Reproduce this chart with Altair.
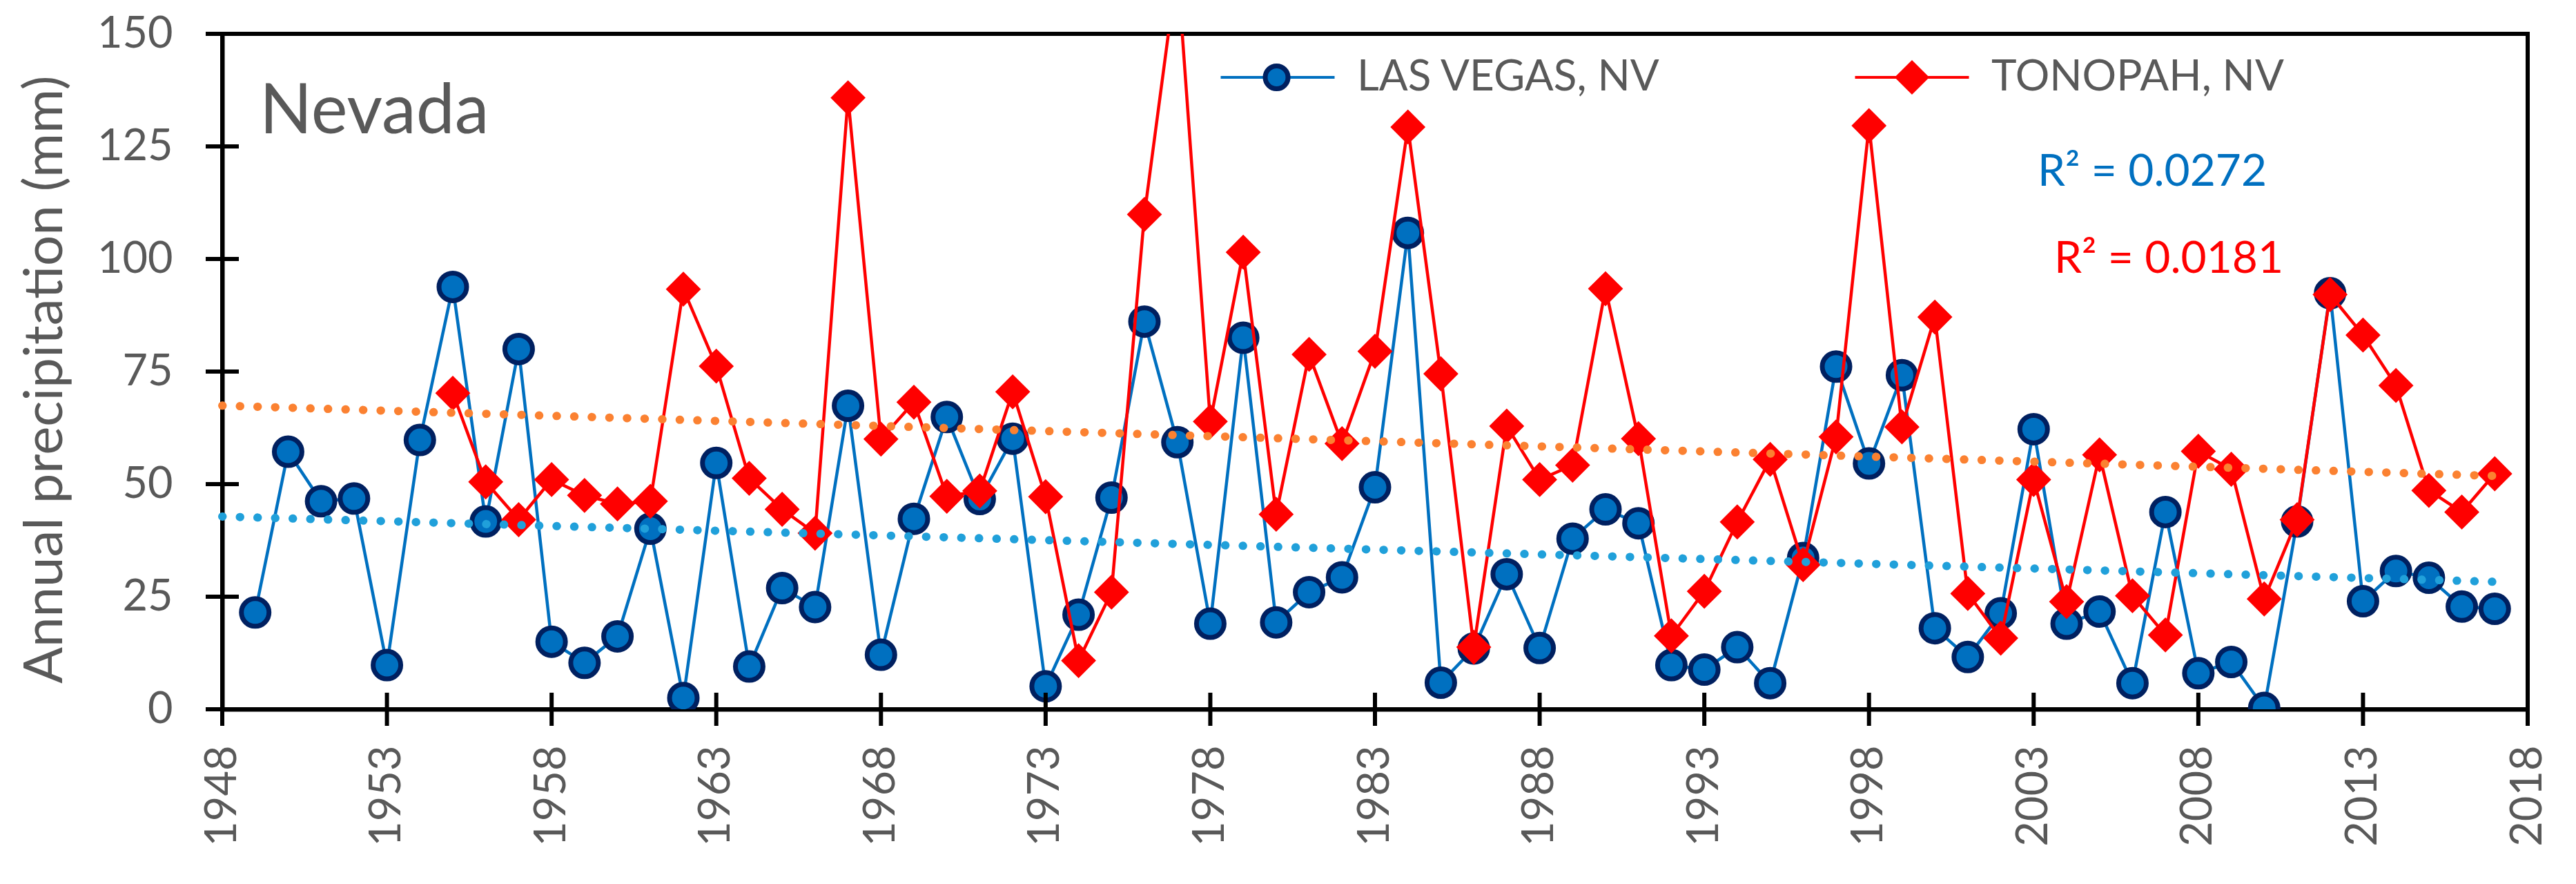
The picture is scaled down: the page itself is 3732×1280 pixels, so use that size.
import altair as alt
import pandas as pd

# ---------------- data ----------------
names = ["LAS VEGAS, NV", "TONOPAH, NV"]

years_lv = list(range(1949, 2018))
precip_lv = [21.5, 57.2, 46.2, 46.8, 9.8, 59.8, 93.8, 41.7, 80.0, 15.0,
             10.3, 16.2, 40.1, 2.5, 54.7, 9.5, 26.9, 22.7, 67.4, 12.1,
             42.3, 64.9, 46.7, 60.1, 5.1, 21.0, 47.0, 86.1, 59.3, 19.0,
             82.5, 19.3, 26.0, 29.3, 49.3, 105.8, 5.9, 13.5, 30.0, 13.6,
             37.9, 44.4, 41.3, 9.8, 8.8, 13.8, 5.8, 33.6, 76.1, 54.6,
             74.2, 18.0, 11.6, 21.3, 62.2, 19.0, 21.7, 5.8, 43.8, 8.0,
             10.5, 0.3, 41.7, 92.4, 24.0, 30.7, 29.2, 22.8, 22.3]

years_ton = list(range(1955, 2018))
precip_ton = [70.2, 50.5, 42.1, 51.0, 47.5, 45.6, 46.2, 93.3, 76.2, 51.3,
              44.4, 39.1, 135.8, 60.0, 68.2, 47.3, 48.5, 70.5, 47.2, 10.8,
              26.0, 109.9, 165.0, 63.9, 101.5, 43.3, 78.8, 59.0, 79.5, 129.3,
              74.5, 13.8, 62.9, 51.0, 54.2, 93.4, 60.1, 16.3, 26.2, 41.6,
              55.5, 32.1, 60.5, 129.6, 62.7, 87.1, 25.7, 15.8, 51.0, 23.9,
              56.5, 25.2, 16.5, 57.3, 53.3, 24.5, 42.1, 92.1, 83.1, 71.9,
              48.6, 43.8, 52.3]

x_ticks = [1948, 1953, 1958, 1963, 1968, 1973, 1978, 1983, 1988, 1993,
           1998, 2003, 2008, 2013, 2018]
y_ticks = [0, 25, 50, 75, 100, 125, 150]
r2_labels = ["R\u00b2 = 0.0272", "R\u00b2 = 0.0181"]
panel_label = "Nevada"
y_title = "Annual precipitation (mm)"

# ---------------- styles ----------------
BLUE = "#0070C0"
NAVY = "#002060"
RED = "#FF0000"
ORANGE_T = "#FB8131"
BLUE_T = "#20A0DA"
GREY = "#595959"
FONT = "Lato"

df_lv = pd.DataFrame({"year": years_lv, "value": precip_lv, "station": names[0]})
df_ton = pd.DataFrame({"year": years_ton, "value": precip_ton, "station": names[1]})
df_all = pd.concat([df_lv, df_ton], ignore_index=True)
df_xt = pd.DataFrame({"year": x_ticks, "value": [0] * len(x_ticks)})
df_yt = pd.DataFrame({"year": [1948] * len(y_ticks), "value": y_ticks})

W, H = 3340, 978

X = alt.X("year:Q",
          scale=alt.Scale(domain=[1948, 2018], nice=False, zero=False),
          axis=alt.Axis(values=x_ticks, format="d", labelAngle=270, title=None,
                        grid=False, tickSize=24, tickOpacity=0, labelPadding=28,
                        labelFont=FONT, labelFontSize=63, labelColor=GREY,
                        domainColor="black", domainWidth=6))
Y = alt.Y("value:Q",
          scale=alt.Scale(domain=[0, 150], nice=False),
          axis=alt.Axis(values=y_ticks, title=y_title, grid=False,
                        tickSize=24, tickOpacity=0, labelPadding=48,
                        labelFont=FONT, labelFontSize=63, labelColor=GREY,
                        domainColor="black", domainWidth=6,
                        titleFont=FONT, titleFontSize=78, titleColor=GREY,
                        titleFontWeight="normal", titleAngle=270,
                        titleAlign="center", titleBaseline="alphabetic",
                        titleX=-233, titleY=500))

lv_line = alt.Chart(df_lv).mark_line(color=BLUE, strokeWidth=4.5, clip=True).encode(x=X, y=Y)
lv_pts = alt.Chart(df_lv).mark_point(shape="circle", filled=True, fill=BLUE, stroke=NAVY,
                                     strokeWidth=7, size=1600, opacity=1, clip=True).encode(x=X, y=Y)
ton_line = alt.Chart(df_ton).mark_line(color=RED, strokeWidth=4.5, clip=True).encode(x=X, y=Y)
ton_pts = alt.Chart(df_ton).mark_point(shape="diamond", filled=True, fill=RED, stroke=RED,
                                       strokeWidth=2, size=2300, opacity=1, clip=True).encode(x=X, y=Y)

trend_lv = alt.Chart(df_lv).transform_regression(
    "year", "value", method="linear", extent=[1948, 2017]
).mark_line(color=BLUE_T, strokeWidth=12, strokeCap="round", strokeDash=[0.5, 25]).encode(x=X, y=Y)
trend_ton = alt.Chart(df_ton).transform_regression(
    "year", "value", method="linear", extent=[1948, 2017]
).mark_line(color=ORANGE_T, strokeWidth=12, strokeCap="round", strokeDash=[0.5, 25]).encode(x=X, y=Y)

xticks = alt.Chart(df_xt).mark_tick(orient="vertical", size=48, thickness=6,
                                    color="black", opacity=1).encode(x=X, y=Y)
yticks = alt.Chart(df_yt).mark_tick(orient="horizontal", size=48, thickness=6,
                                    color="black", opacity=1).encode(x=X, y=Y)

# ---------- legend (library legends, drawn from empty layers) ----------
path_lv = "M-5,0H-1M1,0H5M-1,0A1,1 0 1,0 1,0A1,1 0 1,0 -1,0Z"
path_ton = "M-5,0H-1.35M1.35,0H5M-1.35,0L0,-1.35L1.35,0L0,1.35Z"
ring = "M-1,0A1,1 0 1,0 1,0A1,1 0 1,0 -1,0Z"

LEG_X, LEG_Y = 1498, 32


def make_legend(label_color, label_offset, sym_sw, sym_offset=0, label_expr=None):
    kw = dict(title=None, orient="none", legendX=LEG_X, legendY=LEG_Y,
              direction="horizontal", padding=0,
              labelFont=FONT, labelFontSize=62, labelColor=label_color,
              labelLimit=2000, labelOffset=label_offset,
              symbolSize=1089, symbolStrokeWidth=sym_sw,
              symbolOffset=sym_offset, columnPadding=273)
    if label_expr is not None:
        kw["labelExpr"] = label_expr
    return alt.Legend(**kw)


leg1 = make_legend(GREY, 84, 4)
leg2 = make_legend(GREY, 81, 7, -1.5, label_expr="''")

legend_a = alt.Chart(df_all).transform_filter("datum.year < 0").mark_point(opacity=1).encode(
    shape=alt.Shape("station:N", scale=alt.Scale(domain=names, range=[path_lv, path_ton]), legend=leg1),
    fill=alt.Fill("station:N", scale=alt.Scale(domain=names, range=[BLUE, RED]), legend=leg1),
    stroke=alt.Stroke("station:N", scale=alt.Scale(domain=names, range=[BLUE, RED]), legend=leg1),
)

df_all2 = df_all.assign(st2=df_all["station"])
legend_b = alt.Chart(df_all2).transform_filter("datum.year < 0").mark_point(
    opacity=1, fill="transparent").encode(
    shape=alt.Shape("st2:N", scale=alt.Scale(domain=names, range=[ring, ring]), legend=leg2),
    stroke=alt.Stroke("st2:N", scale=alt.Scale(domain=names, range=[NAVY, "transparent"]), legend=leg2),
)

# ---------- annotations ----------
txt_nv = alt.Chart(pd.DataFrame({"t": [panel_label]})).mark_text(
    font=FONT, fontSize=100, color=GREY, align="left", baseline="alphabetic"
).encode(text="t:N", x=alt.value(54), y=alt.value(144))
txt_r1 = alt.Chart(pd.DataFrame({"t": [r2_labels[0]]})).mark_text(
    font=FONT, fontSize=64, color=BLUE, align="left", baseline="alphabetic"
).encode(text="t:N", x=alt.value(2630), y=alt.value(220))
txt_r2 = alt.Chart(pd.DataFrame({"t": [r2_labels[1]]})).mark_text(
    font=FONT, fontSize=64, color=RED, align="left", baseline="alphabetic"
).encode(text="t:N", x=alt.value(2654), y=alt.value(346))

chart = alt.layer(
    lv_line, lv_pts, ton_line, ton_pts, trend_ton, trend_lv,
    xticks, yticks, legend_a, legend_b, txt_nv, txt_r1, txt_r2
).resolve_scale(
    shape="independent", fill="independent", stroke="independent"
).properties(
    width=W, height=H,
    autosize=alt.AutoSizeParams(type="none"),
    padding={"left": 314, "top": 41, "right": 62, "bottom": 245},
    background="white",
).configure_view(stroke="black", strokeWidth=6)

chart.save("out.html", embed_options={"renderer": "svg", "actions": False})
